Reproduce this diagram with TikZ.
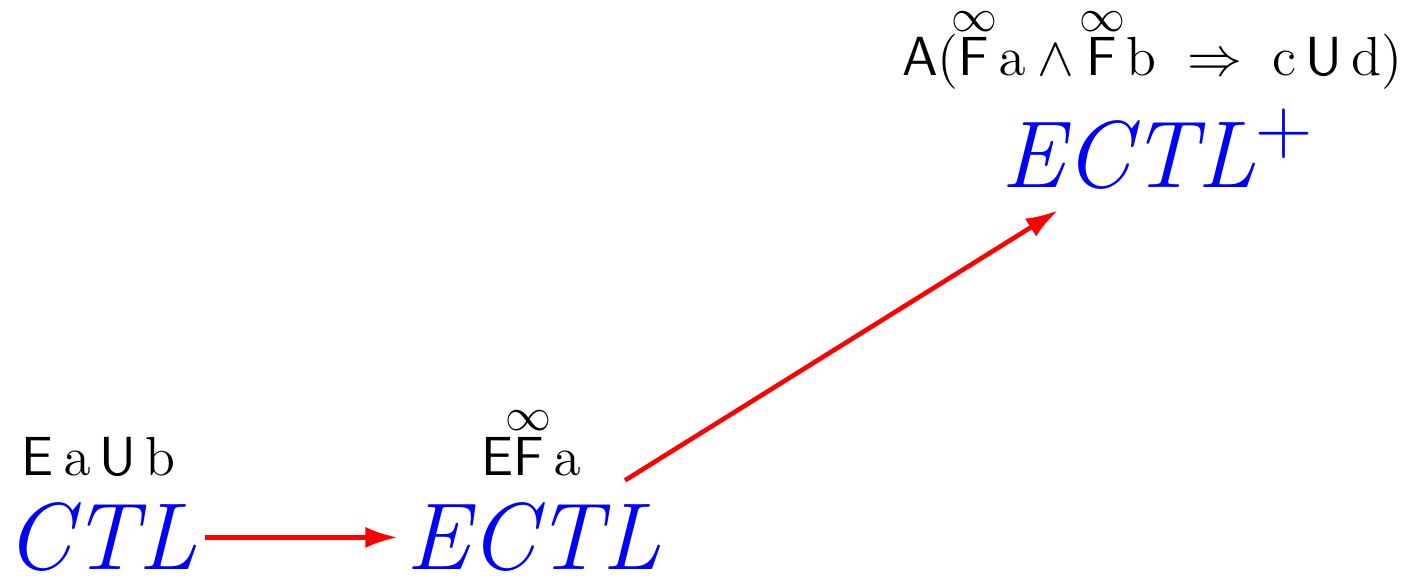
\documentclass[tikz,border=0pt]{standalone}
\usepackage{amsmath, amssymb}
\usepackage{tikz}
\usetikzlibrary{arrows.meta, positioning}

\newcommand{\infF}{\overset{\makebox[0pt]{\raisebox{-1.75ex}{\fontsize{11.5}{12}\selectfont$\infty$}}}{\mathsf{F}}}

\begin{document}
\begin{tikzpicture}[
    logic/.style={text=blue, font=\Huge, inner sep=2pt, anchor=base},
    formula/.style={font=\Large, inner sep=1pt, anchor=base},
    incl/.style={-{Latex[length=8.5pt, width=5.5pt]}, red, line width=1.2pt}
]
    \useasboundingbox (0, 0) rectangle (12.96, 5.327);
    % logics
    \node[logic] (ctl) at (0.93, 0.085) {$\mathit{CTL}$};
    \node[logic] (ectl) at (4.908, 0.085) {$\mathit{ECTL}$};
    \node[logic] (ectlp) at (10.65, 3.60) {$\mathit{ECTL}^+$};

    % example formulas
    \node[formula] (ctlf) at (0.906, 0.957) {$\mathsf{E}\,\mathrm{a}\,\mathsf{U}\,\mathrm{b}$};
    \node[formula] (ectlf) at (4.88, 0.957) {$\mathsf{E}\infF\,\mathrm{a}$};
    \node[formula] (ectlpf) at (10.60, 4.63) {$\mathsf{A}(\infF\,\mathrm{a} \wedge \infF\,\mathrm{b} \;\Rightarrow\; \mathrm{c}\,\mathsf{U}\,\mathrm{d})$};

    % arrows
    \draw[incl] (ctl) -- (ectl);
    \draw[incl, shorten <=8pt, shorten >=7pt] (ectl) -- (ectlp);
\end{tikzpicture}
\end{document}
